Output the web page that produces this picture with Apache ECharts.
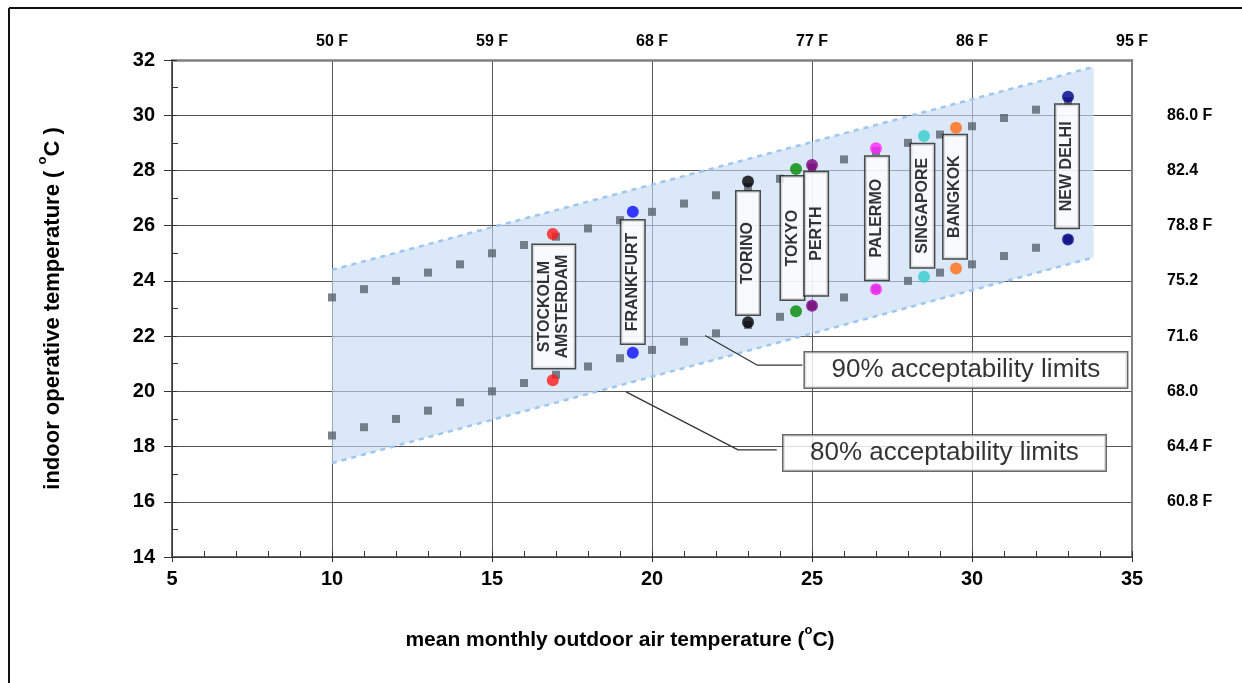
<!DOCTYPE html>
<html>
<head>
<meta charset="utf-8">
<script src="https://cdn.jsdelivr.net/npm/echarts@6/dist/echarts.min.js"></script>
<style>
html,body{margin:0;padding:0;background:#fff;}
#chart{width:1242px;height:683px;}
</style>
</head>
<body>
<div id="chart"></div>
<script>
// ---- data ----
const xTicksTop = [10, 15, 20, 25, 30, 35];
const xTopLabels = ['50 F', '59 F', '68 F', '77 F', '86 F', '95 F'];
const yTicksRight = [30, 28, 26, 24, 22, 20, 18, 16];
const yRightLabels = ['86.0 F', '82.4', '78.8 F', '75.2', '71.6', '68.0', '64.4 F', '60.8 F'];

const outdoor90 = [10, 11, 12, 13, 14, 15, 16, 17, 18, 19, 20, 21, 22, 23, 24, 25, 26, 27, 28, 29, 30, 31, 32, 33];
const upper90 = [23.4, 23.7, 24.0, 24.3, 24.6, 25.0, 25.3, 25.6, 25.9, 26.2, 26.5, 26.8, 27.1, 27.4, 27.7, 28.1, 28.4, 28.7, 29.0, 29.3, 29.6, 29.9, 30.2, 30.5];
const lower90 = [18.4, 18.7, 19.0, 19.3, 19.6, 20.0, 20.3, 20.6, 20.9, 21.2, 21.5, 21.8, 22.1, 22.4, 22.7, 23.1, 23.4, 23.7, 24.0, 24.3, 24.6, 24.9, 25.2, 25.5];

const band80Upper = [[10, 24.4], [33.8, 31.75]];
const band80Lower = [[10, 17.4], [33.8, 24.85]];

const cityNames = ['STOCKOLM\nAMSTERDAM', 'FRANKFURT', 'TORINO', 'TOKYO', 'PERTH', 'PALERMO', 'SINGAPORE', 'BANGKOK', 'NEW DELHI'];
const cityOutdoor = [16.9, 19.4, 23.0, 24.5, 25.0, 27.0, 28.5, 29.5, 33.0];
const cityUpper = [25.7, 26.5, 27.6, 28.05, 28.2, 28.8, 29.25, 29.55, 30.67];
const cityLower = [20.4, 21.4, 22.5, 22.9, 23.1, 23.7, 24.15, 24.45, 25.5];
const labelX = [16.93, 19.4, 23.0, 24.39, 25.13, 27.03, 28.45, 29.47, 32.97];
const labelY = [23.07, 23.96, 25.01, 25.55, 25.71, 26.27, 26.72, 27.05, 28.15];

const annotTexts = ['90% acceptability limits', '80% acceptability limits'];
const annotX = [29.81, 29.14];
const annotY = [20.77, 17.77];
const leader90 = [[21.66, 22.02], [23.28, 20.95], [24.7, 20.95]];
const leader80 = [[19.19, 19.98], [22.69, 17.88], [23.9, 17.88]];

// ---- styles ----
const cityColors = ['#ff1a1a', '#0a0aff', '#000000', '#008a00', '#800080', '#ff22ff', '#33cccc', '#ff6a10', '#000088'];
const FONT = '"Liberation Sans", Arial, sans-serif';

const chart = echarts.init(document.getElementById('chart'), null, {renderer: 'canvas'});

const cityDots = [];
cityNames.forEach((n, i) => {
  cityDots.push({value: [cityOutdoor[i], cityUpper[i]], itemStyle: {color: cityColors[i]}});
  cityDots.push({value: [cityOutdoor[i], cityLower[i]], itemStyle: {color: cityColors[i]}});
});

const cityLabelData = cityNames.map((n, i) => {
  const two = n.indexOf('\n') >= 0;
  return {
    name: n,
    value: [labelX[i], labelY[i]],
    label: {height: two ? 36 : 17}
  };
});

function supRich(size) {
  return {
    t: {fontFamily: FONT, fontWeight: 'bold', fontSize: size, color: '#000', lineHeight: size + 6, verticalAlign: 'bottom'},
    sup: {fontFamily: FONT, fontWeight: 'bold', fontSize: 13, color: '#000', lineHeight: size + 6, verticalAlign: 'top', padding: [0, 0, 10, 0]}
  };
}

const option = {
  backgroundColor: '#fff',
  animation: false,
  grid: {left: 172, right: 110, top: 60, bottom: 126, show: false},
  graphic: [
    {type: 'line', shape: {x1: 9, y1: 8, x2: 9, y2: 683}, style: {stroke: '#111', lineWidth: 2}, z: 100},
    {type: 'line', shape: {x1: 9, y1: 8, x2: 1242, y2: 8}, style: {stroke: '#111', lineWidth: 2}, z: 100},
    {type: 'text', x: 620, y: 637, z: 100,
     style: {text: '{t|mean monthly outdoor air temperature (}{sup|o}{t|C)}', rich: supRich(21),
             align: 'center', verticalAlign: 'middle', textAlign: 'center', textVerticalAlign: 'middle'}}
  ],
  xAxis: [
    {
      type: 'value', position: 'bottom', min: 5, max: 35, interval: 5,
      axisLine: {show: true, lineStyle: {color: '#333', width: 1.5}},
      axisTick: {show: true, inside: true, length: 6, lineStyle: {color: '#333'}},
      minorTick: {show: true, splitNumber: 5, length: 6, lineStyle: {color: '#333'}},
      splitLine: {show: true, lineStyle: {color: '#555', width: 1}},
      axisLabel: {fontFamily: FONT, fontWeight: 'bold', fontSize: 20, color: '#000', margin: 12}
    },
    {
      type: 'value', position: 'top', min: 5, max: 35, interval: 5,
      axisLine: {show: true, lineStyle: {color: '#808080', width: 2.5}},
      axisTick: {show: false},
      splitLine: {show: false},
      axisLabel: {fontFamily: FONT, fontWeight: 'bold', fontSize: 16, color: '#000', margin: 10,
        formatter: v => { const k = xTicksTop.indexOf(v); return k >= 0 ? xTopLabels[k] : ''; }}
    },
    {
      type: 'value', position: 'bottom', min: 5, max: 35, interval: 5,
      axisLine: {show: false},
      axisTick: {show: true, inside: false, length: 5, lineStyle: {color: '#333'}},
      splitLine: {show: false},
      axisLabel: {show: false}
    }
  ],
  yAxis: [
    {
      type: 'value', position: 'left', min: 14, max: 32, interval: 2,
      axisLine: {show: true, lineStyle: {color: '#333', width: 1.5}},
      axisTick: {show: true, inside: true, length: 5, lineStyle: {color: '#333'}},
      minorTick: {show: true, splitNumber: 2, length: 6, lineStyle: {color: '#333'}},
      splitLine: {show: true, lineStyle: {color: '#555', width: 1}},
      axisLabel: {fontFamily: FONT, fontWeight: 'bold', fontSize: 20, color: '#000', margin: 17},
      name: '{t|indoor operative temperature ( }{sup|o}{t|C )}',
      nameLocation: 'middle', nameGap: 108, nameRotate: 90,
      nameTextStyle: {rich: supRich(22)}
    },
    {
      type: 'value', position: 'right', min: 14, max: 32, interval: 2,
      axisLine: {show: true, lineStyle: {color: '#808080', width: 2}},
      axisTick: {show: false},
      splitLine: {show: false},
      axisLabel: {fontFamily: FONT, fontWeight: 'bold', fontSize: 16, color: '#000', margin: 35,
        formatter: v => { const k = yTicksRight.indexOf(v); return k >= 0 ? yRightLabels[k] : ''; }}
    },
    {
      type: 'value', position: 'left', min: 14, max: 32, interval: 2,
      axisLine: {show: false},
      axisTick: {show: true, inside: false, length: 8, lineStyle: {color: '#333'}},
      splitLine: {show: false},
      axisLabel: {show: false}
    }
  ],
  series: [
    {
      type: 'custom', silent: true, z: 1,
      data: [band80Lower[0]],
      renderItem: (params, api) => {
        const pts = [api.coord(band80Lower[0]), api.coord(band80Lower[1]), api.coord(band80Upper[1]), api.coord(band80Upper[0])];
        return {type: 'polygon', shape: {points: pts}, style: {fill: 'rgba(196,218,243,0.62)'}};
      }
    },
    {
      type: 'line', data: band80Upper, symbol: 'none', silent: true, z: 2,
      lineStyle: {color: '#9fc6ee', width: 2.5, type: [5, 5]}
    },
    {
      type: 'line', data: band80Lower, symbol: 'none', silent: true, z: 2,
      lineStyle: {color: '#9fc6ee', width: 2.5, type: [5, 5]}
    },
    {
      type: 'scatter', symbol: 'rect', symbolSize: 8, z: 3,
      itemStyle: {color: '#59636e'},
      data: outdoor90.map((x, i) => [x, upper90[i]])
    },
    {
      type: 'scatter', symbol: 'rect', symbolSize: 8, z: 3,
      itemStyle: {color: '#59636e'},
      data: outdoor90.map((x, i) => [x, lower90[i]])
    },
    {
      type: 'line', data: leader90, symbol: 'none', silent: true, z: 4,
      lineStyle: {color: '#333', width: 1.2}
    },
    {
      type: 'line', data: leader80, symbol: 'none', silent: true, z: 4,
      lineStyle: {color: '#333', width: 1.2}
    },
    {
      type: 'scatter', symbolSize: 12, z: 6,
      data: cityDots
    },
    {
      type: 'scatter', symbolSize: 0, z: 5, silent: true,
      data: cityLabelData,
      label: {
        show: true, position: 'inside', rotate: 90,
        formatter: p => p.name,
        fontFamily: FONT, fontWeight: 'bold', fontSize: 16, color: '#000', lineHeight: 18,
        backgroundColor: '#fff', borderColor: '#222', borderWidth: 1.5,
        width: 117, align: 'center', verticalAlign: 'middle', padding: [3, 3, 3, 3]
      }
    },
    {
      type: 'scatter', symbolSize: 0, z: 7, silent: true,
      data: annotTexts.map((t, i) => ({name: t, value: [annotX[i], annotY[i]]})),
      label: {
        show: true, position: 'inside',
        formatter: p => p.name,
        fontFamily: FONT, fontSize: 26, color: '#000',
        backgroundColor: '#fff', borderColor: '#444', borderWidth: 1.5,
        width: 310, height: 27, align: 'center', verticalAlign: 'middle', padding: [4, 6, 4, 6]
      }
    }
  ]
};
chart.setOption(option);
</script>
</body>
</html>
